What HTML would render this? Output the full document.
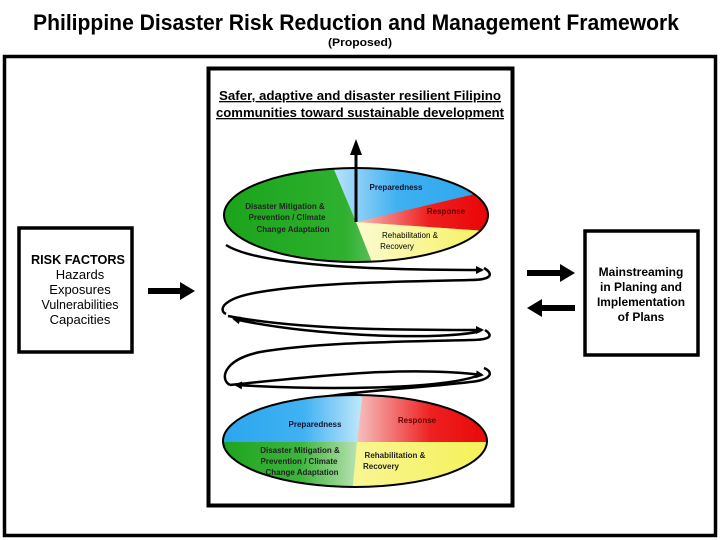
<!DOCTYPE html>
<html><head><meta charset="utf-8"><style>
html,body{margin:0;padding:0;background:#fff;width:720px;height:540px;overflow:hidden}
svg{display:block}
text{font-family:"Liberation Sans",sans-serif}
</style></head><body>
<svg width="720" height="540" viewBox="0 0 720 540" xmlns="http://www.w3.org/2000/svg">
<defs>
<marker id="ah" markerWidth="8" markerHeight="8" refX="6" refY="4" orient="auto" markerUnits="userSpaceOnUse">
<path d="M0,0 L8,4 L0,8 Z" fill="#000"/></marker>
<linearGradient id="gr" x1="0" x2="1"><stop offset="0" stop-color="#1aa31a"/><stop offset="0.45" stop-color="#2fb12f"/><stop offset="0.55" stop-color="#5cc05c"/><stop offset="1" stop-color="#c8e8c0"/></linearGradient>
<linearGradient id="bl" x1="0" x2="1"><stop offset="0" stop-color="#bfe6fb"/><stop offset="0.4" stop-color="#3fb0f0"/><stop offset="1" stop-color="#29a5ee"/></linearGradient>
<linearGradient id="rd" x1="0" x2="1"><stop offset="0" stop-color="#f6c0c0"/><stop offset="0.5" stop-color="#ee2020"/><stop offset="1" stop-color="#e80000"/></linearGradient>
<linearGradient id="yl" x1="0" x2="1"><stop offset="0" stop-color="#fbfbd0"/><stop offset="1" stop-color="#f5f050"/></linearGradient>
<linearGradient id="bl2" x1="0" x2="1"><stop offset="0" stop-color="#29a5ee"/><stop offset="0.6" stop-color="#40b2f2"/><stop offset="1" stop-color="#c4e8fb"/></linearGradient>
<linearGradient id="gr2" x1="0" x2="1"><stop offset="0" stop-color="#1aa31a"/><stop offset="0.6" stop-color="#3db53d"/><stop offset="1" stop-color="#b8e2b0"/></linearGradient>
<clipPath id="e1"><ellipse cx="356" cy="215" rx="132" ry="47"/></clipPath>
<clipPath id="e2"><ellipse cx="355" cy="441" rx="132" ry="46"/></clipPath>
</defs>

<text x="356" y="30" font-size="22" font-weight="bold" text-anchor="middle" textLength="646" lengthAdjust="spacingAndGlyphs">Philippine Disaster Risk Reduction and Management Framework</text>
<text x="360" y="46" font-size="11" font-weight="bold" text-anchor="middle" textLength="64" lengthAdjust="spacingAndGlyphs">(Proposed)</text>

<rect x="4.5" y="56.5" width="711" height="479" fill="none" stroke="#000" stroke-width="3.5"/>
<rect x="208.5" y="68.5" width="304" height="437" fill="none" stroke="#000" stroke-width="4"/>
<rect x="19" y="228" width="113" height="124" fill="none" stroke="#000" stroke-width="3.5"/>
<rect x="585" y="231" width="113" height="124" fill="none" stroke="#000" stroke-width="3.5"/>

<text x="78" y="264" font-size="13" font-weight="bold" text-anchor="middle" textLength="94" lengthAdjust="spacingAndGlyphs">RISK FACTORS</text>
<text x="80" y="279" font-size="13" text-anchor="middle">Hazards</text>
<text x="80" y="294" font-size="13" text-anchor="middle">Exposures</text>
<text x="80" y="309" font-size="13" text-anchor="middle" textLength="77" lengthAdjust="spacingAndGlyphs">Vulnerabilities</text>
<text x="80" y="324" font-size="13" text-anchor="middle">Capacities</text>

<g font-size="12" font-weight="bold" text-anchor="middle">
<text x="641" y="276">Mainstreaming</text>
<text x="641" y="291">in Planing and</text>
<text x="641" y="306" textLength="88" lengthAdjust="spacingAndGlyphs">Implementation</text>
<text x="641" y="321">of Plans</text>
</g>

<!-- side arrows -->
<path d="M148,288 h32 v-6 l15,9 l-15,9 v-6 h-32 z" fill="#000"/>
<path d="M527,270 h33 v-6 l15,9 l-15,9 v-6 h-33 z" fill="#000"/>
<path d="M575,305 h-33 v-6 l-15,9 l15,9 v-6 h33 z" fill="#000"/>

<g font-size="13" font-weight="bold" text-anchor="middle" text-decoration="underline">
<text x="360" y="100" textLength="282" lengthAdjust="spacingAndGlyphs">Safer, adaptive and disaster resilient Filipino</text>
<text x="360" y="117" textLength="288" lengthAdjust="spacingAndGlyphs">communities toward sustainable development</text>
</g>
<line x1="210" y1="103" x2="210" y2="103"/>

<!-- top ellipse -->
<g clip-path="url(#e1)">
<rect x="220" y="165" width="280" height="100" fill="url(#gr)"/>
<polygon points="356,222 330,160 500,160 500,188" fill="url(#bl)"/>
<polygon points="356,222 500,188 500,232" fill="url(#rd)"/>
<polygon points="356,222 500,232 500,270 375,270" fill="url(#yl)"/>
</g>
<ellipse cx="356" cy="215" rx="132" ry="47" fill="none" stroke="#000" stroke-width="2"/>
<line x1="356" y1="222" x2="356" y2="150" stroke="#000" stroke-width="3"/>
<path d="M350,155 L356,139 L362,155 Z" fill="#000"/>
<g font-size="8" font-weight="bold" text-anchor="middle" fill="#222">
<text x="396" y="190" fill="#113">Preparedness</text>
<text x="446" y="214" fill="#600">Response</text>
<text x="285" y="209">Disaster Mitigation &amp;</text>
<text x="287" y="220">Prevention / Climate</text>
<text x="293" y="232">Change Adaptation</text>
<text x="410" y="238" font-weight="normal" fill="#000">Rehabilitation &amp;</text>
<text x="397" y="249" font-weight="normal" fill="#000">Recovery</text>
</g>

<!-- spiral -->
<g fill="none" stroke="#000" stroke-width="2.5">
<path d="M226,245 C262,268 400,270 482,270" marker-end="url(#ah)"/>
<path d="M484,268 C494,274 492,280 470,280 C400,282 320,282 260,292 C222,298 218,310 226,314"/>
<path d="M480,331 C450,340 320,338 234,319" marker-end="url(#ah)"/>
<path d="M228,316 C300,330 400,330 482,330" marker-end="url(#ah)"/>
<path d="M485,330 C494,336 490,340 470,340 C400,342 320,342 260,352 C222,360 220,380 230,385"/>
<path d="M480,375 C440,390 320,390 236,385" marker-end="url(#ah)"/>
<path d="M230,385 C300,378 400,365 482,375" marker-end="url(#ah)"/>
<path d="M484,368 C494,372 492,380 470,382 C420,388 370,390 330,396"/>
</g>

<!-- bottom ellipse -->
<g clip-path="url(#e2)">
<rect x="215" y="390" width="290" height="100" fill="url(#yl)"/>
<polygon points="215,390 363,390 357,442 215,442" fill="url(#bl2)"/>
<polygon points="363,390 505,390 505,442 357,442" fill="url(#rd)"/>
<polygon points="215,442 357,442 352,495 215,495" fill="url(#gr2)"/>
</g>
<ellipse cx="355" cy="441" rx="132" ry="46" fill="none" stroke="#000" stroke-width="2"/>
<g font-size="8" font-weight="bold" text-anchor="middle" fill="#222">
<text x="315" y="427" fill="#113">Preparedness</text>
<text x="417" y="423" fill="#600">Response</text>
<text x="300" y="453">Disaster Mitigation &amp;</text>
<text x="299" y="464">Prevention / Climate</text>
<text x="302" y="475">Change Adaptation</text>
<text x="395" y="458">Rehabilitation &amp;</text>
<text x="381" y="469">Recovery</text>
</g>
</svg>
</body></html>
